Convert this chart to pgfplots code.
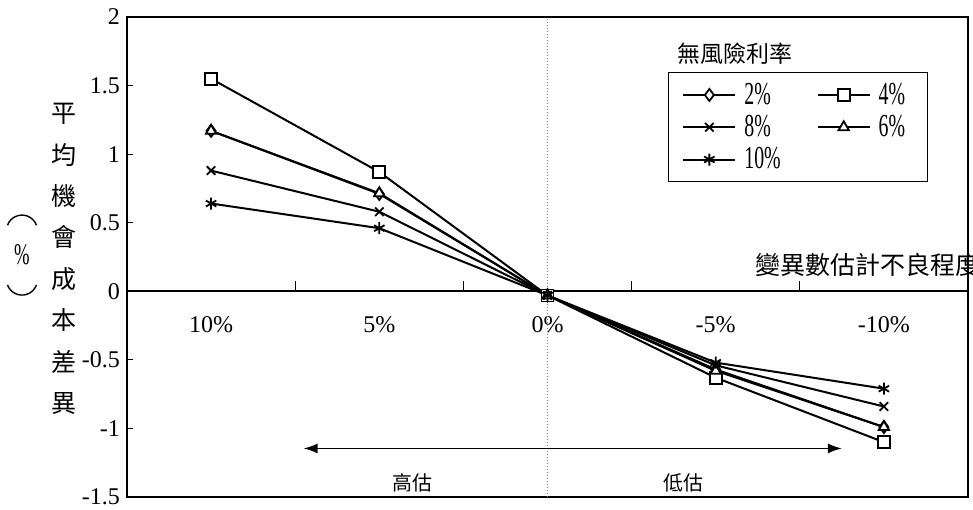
\documentclass[border=0pt]{standalone}
\usepackage{pgfplots}
\pgfplotsset{compat=1.18}
\usepackage{fontspec}
\usetikzlibrary{arrows.meta}
\setmainfont{Liberation Serif}
\newfontfamily\cjk{Noto Sans CJK TC}
\newfontfamily\narrow{Liberation Serif}[FakeStretch=0.62]
\begin{document}
\begin{tikzpicture}
\begin{axis}[
  scale only axis, width=420.5pt, height=240pt,
  xmin=-0.5, xmax=4.5, ymin=-1.5, ymax=2,
  axis x line=middle, axis y line=left,
  axis line style={-, line width=0.8pt},
  hide obscured x ticks=false, hide obscured y ticks=false,
  xtick={0,1,2,3,4}, xticklabels={10\%,5\%,0\%,-5\%,-10\%},
  major x tick style={draw=none},
  minor xtick={0.5,1.5,2.5,3.5},
  minor tick length=5pt,
  tick align=inside,
  major tick length=3pt,
  ytick={-1.5,-1,-0.5,0,0.5,1,1.5,2},
  yticklabels={-1.5,-1,-0.5,0,0.5,1,1.5,2},
  ticklabel style={font=\fontsize{12}{14}\selectfont},
  xticklabel style={yshift=-9pt},
  tick style={black, line width=0.6pt},
  clip=false,
  legend columns=2,
  legend style={at={(0.643,0.885)}, anchor=north west, draw=black, line width=0.6pt,
    font=\narrow\fontsize{16}{16}\selectfont, row sep=0pt, inner xsep=7pt, inner ysep=3pt,
    nodes={inner xsep=4pt},
    /tikz/every even column/.append style={column sep=14pt}},
  legend cell align=left,
  legend image code/.code={\draw[mark repeat=2,mark phase=2] plot coordinates {(0pt,0pt)(13pt,0pt)(26pt,0pt)};},
  every axis plot/.append style={line width=1pt, black, mark size=3pt, mark options={solid, fill=white, line width=0.9pt}},
]
\coordinate (O) at (rel axis cs:0,0);
\coordinate (P) at ([xshift=-52.5pt]rel axis cs:0,0.504);
\draw[line width=0.8pt] (rel axis cs:0,0) rectangle (rel axis cs:1,1);
\draw[densely dotted, gray, line width=0.5pt] (axis cs:2,-1.5) -- (axis cs:2,2);

\addplot[mark=diamond*] coordinates {(0,1.17) (1,0.71) (2,-0.03) (3,-0.57) (4,-0.99)};
\addlegendentry{2\%}
\addplot[mark=square*] coordinates {(0,1.55) (1,0.87) (2,-0.03) (3,-0.63) (4,-1.10)};
\addlegendentry{4\%}
\addplot[mark=x] coordinates {(0,0.88) (1,0.58) (2,-0.03) (3,-0.54) (4,-0.84)};
\addlegendentry{8\%}
\addplot[mark=triangle*] coordinates {(0,1.17) (1,0.715) (2,-0.03) (3,-0.58) (4,-0.99)};
\addlegendentry{6\%}
\addplot[mark=asterisk] coordinates {(0,0.64) (1,0.46) (2,-0.03) (3,-0.52) (4,-0.71)};
\addlegendentry{10\%}

\node[anchor=west, font=\cjk\fontsize{11.5}{12}\selectfont, inner sep=0pt] at (rel axis cs:0.654,0.923) {無風險利率};
\node[anchor=west, font=\cjk\fontsize{12.5}{13}\selectfont, inner sep=0pt] at (axis cs:3.234,0.19) {變異數估計不良程度};
\node[align=center, font=\cjk\fontsize{12.5}{20.7}\selectfont, inner sep=0pt] at ([xshift=-31.5pt]rel axis cs:0,0.496) {平\\均\\機\\會\\成\\本\\差\\異};
\node[font=\narrow\fontsize{15}{15}\selectfont, inner sep=0pt] at (P) {\%};
\draw[line width=0.7pt] (P) ++(-7.24pt,14.93pt) arc[start angle=160, end angle=20, radius=7.7pt];
\draw[line width=0.7pt] (P) ++(-7.24pt,-14.93pt) arc[start angle=200, end angle=340, radius=7.7pt];
\draw[{Latex[length=7pt,width=5pt]}-{Latex[length=7pt,width=5pt]}, line width=0.7pt] (axis cs:0.55,-1.146) -- (axis cs:3.75,-1.146);
\node[font=\cjk\fontsize{10}{11}\selectfont] at (axis cs:1.2,-1.40) {高估};
\node[font=\cjk\fontsize{10}{11}\selectfont] at (axis cs:2.81,-1.40) {低估};
\end{axis}
\pgfresetboundingbox
\path[use as bounding box] (O) ++(-63.5pt,-6pt) rectangle ++(486.5pt,254.5pt);
\end{tikzpicture}
\end{document}
